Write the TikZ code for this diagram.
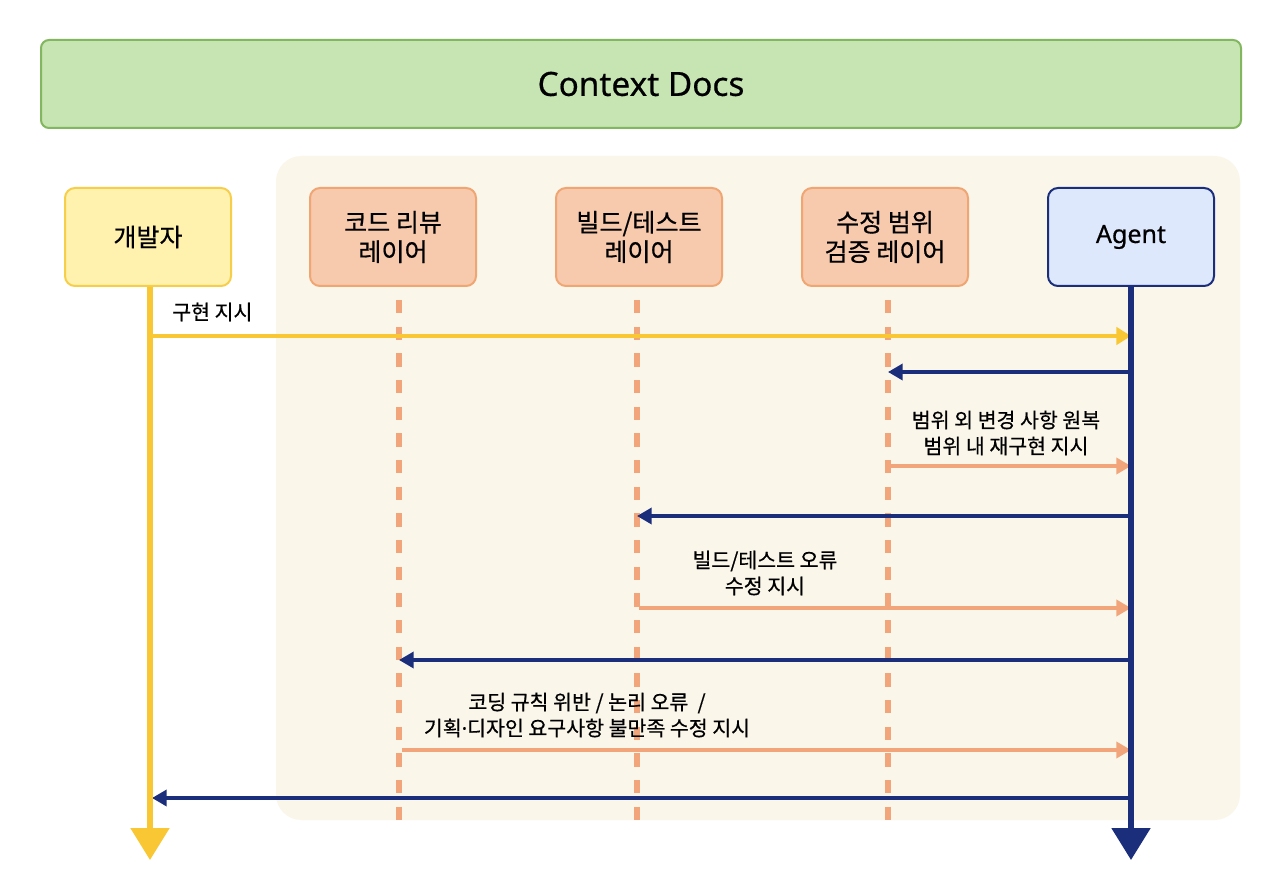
\documentclass[tikz,border=0pt]{standalone}
\usepackage{fontspec}
\setmainfont{Noto Sans CJK KR}[FakeBold=0.6,AutoFakeBold=0]
\newfontfamily\kofont{Noto Sans CJK KR}[FakeBold=0.6]
\newfontfamily\latinfont{Noto Sans}[FakeBold=0.5]
\usetikzlibrary{arrows.meta}
\definecolor{docfill}{HTML}{C6E5B2}
\definecolor{docline}{HTML}{82B75F}
\definecolor{panel}{HTML}{FAF6EA}
\definecolor{devfill}{HTML}{FFF2AE}
\definecolor{devline}{HTML}{F6CE4A}
\definecolor{layfill}{HTML}{F7C9AD}
\definecolor{layline}{HTML}{F0A673}
\definecolor{agfill}{HTML}{DDE8FC}
\definecolor{navy}{HTML}{1B2E7C}
\definecolor{ylw}{HTML}{F9C733}
\definecolor{org}{HTML}{F2A57A}
\tikzset{
  actor/.style={draw, line width=1.5pt, rounded corners=7.5pt, minimum width=124.5pt, minimum height=73.5pt, align=center, font=\kofont\fontsize{18.8pt}{22pt}\selectfont, inner sep=0pt},
  devbox/.style={actor, fill=devfill, draw=devline},
  laybox/.style={actor, fill=layfill, draw=layline},
  agbox/.style={actor, fill=agfill, draw=navy, font=\latinfont\fontsize{18.8pt}{22pt}\selectfont},
  lifedash/.style={draw=org, line width=4.5pt, dash pattern=on 10pt off 10pt},
  msgy/.style={draw=ylw, line width=2.6pt, -{Triangle[length=11pt,width=13pt]}},
  msgn/.style={draw=navy, line width=2.6pt, -{Triangle[length=11pt,width=12pt]}},
  msgo/.style={draw=org, line width=2.6pt, -{Triangle[length=11pt,width=12pt]}},
  lbl/.style={font=\kofont\fontsize{15.4pt}{19.5pt}\selectfont, align=center, inner sep=0pt},
}
\begin{document}
\begin{tikzpicture}[x=0.75pt,y=-0.75pt]
\useasboundingbox (0,0) rectangle (1280,880);
\fill[white] (0,0) rectangle (1280,880);
% Context Docs
\node[draw=docline, fill=docfill, line width=1.5pt, rounded corners=6pt, minimum width=900pt, minimum height=66pt, font=\latinfont\fontsize{25pt}{30pt}\selectfont, inner sep=0pt] (docs) at (641,84) {Context Docs};
% panel
\fill[panel, rounded corners=19pt] (276,156) rectangle (1240,820);
% actors
\node[devbox] (dev) at (148,237) {개발자};
\node[laybox] (cr) at (393,237) {코드 리뷰\\레이어};
\node[laybox] (bt) at (639,237) {빌드/테스트\\레이어};
\node[laybox] (sc) at (885,237) {수정 범위\\검증 레이어};
\node[agbox] (ag) at (1131,237) {Agent};
% lifeline ends
\coordinate (devend) at (150,860);
\coordinate (agend) at (1131,860);
\coordinate (crtop) at (399,300); \coordinate (crend) at (399,820);
\coordinate (bttop) at (637,300); \coordinate (btend) at (637,820);
\coordinate (sctop) at (888,300); \coordinate (scend) at (888,820);
% dashed lifelines
\draw[lifedash] (crtop) -- (crend);
\draw[lifedash] (bttop) -- (btend);
\draw[lifedash] (sctop) -- (scend);
% message coordinates
\coordinate (d1) at (150,336); \coordinate (a1) at (1131,336);
\coordinate (a2) at (1131,372); \coordinate (s2) at (888,372);
\coordinate (s3) at (890,466); \coordinate (a3) at (1131,466);
\coordinate (a4) at (1131,516); \coordinate (b4) at (637,516);
\coordinate (b5) at (639,608); \coordinate (a5) at (1131,608);
\coordinate (a6) at (1131,660); \coordinate (c6) at (399,660);
\coordinate (c7) at (402,750); \coordinate (a7) at (1131,750);
\coordinate (a8) at (1131,798); \coordinate (d8) at (152,798);
% messages
\draw[msgy] (d1) -- (a1);
\draw[msgn] (a2) -- (s2);
\draw[msgo] (s3) -- (a3);
\draw[msgn] (a4) -- (b4);
\draw[msgo] (b5) -- (a5);
\draw[msgn] (a6) -- (c6);
\draw[msgo] (c7) -- (a7);
\draw[msgn] (a8) -- (d8);
% solid lifelines
\draw[draw=ylw, line width=4pt, -{Triangle[length=24pt,width=28.5pt]}] (dev.south -| devend) -- (devend);
\draw[draw=navy, line width=4pt, -{Triangle[length=24pt,width=28.5pt]}] (ag.south) -- (agend);
% labels
\node[lbl, anchor=west] (l1) at (172,312) {구현 지시};
\node[lbl] (l3) at (1006,433) {범위 외 변경 사항 원복\\범위 내 재구현 지시};
\node[lbl] (l5) at (765,573) {빌드/테스트 오류\\수정 지시};
\node[lbl] (l7) at (587,715) {코딩 규칙 위반 / 논리 오류 \ /\\기획{\latinfont ·}디자인 요구사항 불만족 수정 지시};
\end{tikzpicture}
\end{document}
